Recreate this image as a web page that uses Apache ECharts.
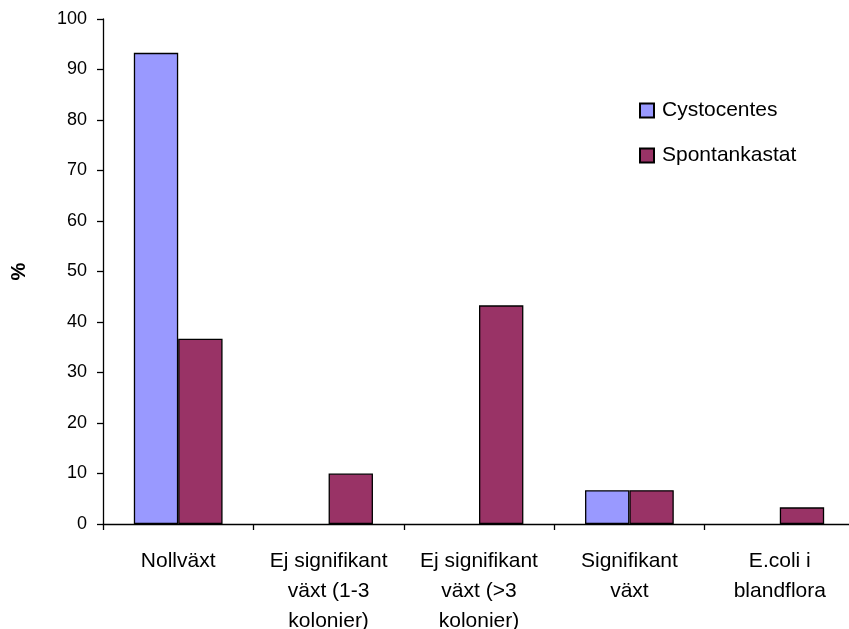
<!DOCTYPE html>
<html>
<head>
<meta charset="utf-8">
<script src="https://cdn.jsdelivr.net/npm/echarts@6/dist/echarts.min.js"></script>
<style>
  html, body { margin: 0; padding: 0; background: #fff; }
  #chart { width: 849px; height: 629px; }
</style>
</head>
<body>
<div id="chart"></div>
<script>
// Odlingsresultat per provtagningsmetod (%)
const categories = [
  'Nollväxt',
  'Ej signifikant\nväxt (1-3\nkolonier)',
  'Ej signifikant\nväxt (>3\nkolonier)',
  'Signifikant\nväxt',
  'E.coli i\nblandflora'
];
const cystocentes = [93.3, 0, 0, 6.7, 0];
const spontankastat = [36.7, 10, 43.3, 6.7, 3.3];
const yTicks = { min: 0, max: 100, interval: 10 };

const font = 'Liberation Sans, Arial, sans-serif';

// zero-height bars get no outline so they don't leave a line on the axis
function barData(values) {
  return values.map(v => ({ value: v, itemStyle: { borderWidth: v === 0 ? 0 : 1.3 } }));
}

const chart = echarts.init(document.getElementById('chart'));

chart.setOption({
  animation: false,
  backgroundColor: '#ffffff',
  grid: { left: 103, top: 19, bottom: 105, width: 752, outerBoundsMode: 'none', containLabel: false },
  legend: {
    orient: 'vertical',
    left: 634,
    top: 95,
    itemWidth: 14,
    itemHeight: 14,
    itemGap: 24,
    icon: 'rect',
    textStyle: { fontFamily: font, fontSize: 21, color: '#000', padding: [0, 0, 0, 3] },
    data: ['Cystocentes', 'Spontankastat']
  },
  xAxis: {
    type: 'category',
    data: categories,
    axisLine: { lineStyle: { color: '#000', width: 1.3 } },
    axisTick: { show: true, length: 6, lineStyle: { color: '#000', width: 1.3 } },
    axisLabel: {
      interval: 0,
      margin: 22,
      fontFamily: font,
      fontSize: 21,
      lineHeight: 30,
      color: '#000',
      align: 'center'
    }
  },
  yAxis: {
    type: 'value',
    min: yTicks.min,
    max: yTicks.max,
    interval: yTicks.interval,
    name: '%',
    nameLocation: 'middle',
    nameGap: 74,
    nameRotate: 90,
    nameTextStyle: { fontFamily: font, fontSize: 20, fontWeight: 'bold', color: '#000' },
    splitLine: { show: false },
    axisLine: { show: true, lineStyle: { color: '#000', width: 1.3 } },
    axisTick: { show: true, length: 6, lineStyle: { color: '#000', width: 1.3 } },
    axisLabel: { margin: 16, fontFamily: font, fontSize: 18, color: '#000' }
  },
  series: [
    {
      name: 'Cystocentes',
      type: 'bar',
      data: barData(cystocentes),
      barGap: '0%',
      barCategoryGap: '41%',
      itemStyle: { color: '#9999ff', borderColor: '#000', borderWidth: 1.3 }
    },
    {
      name: 'Spontankastat',
      type: 'bar',
      data: barData(spontankastat),
      barGap: '0%',
      barCategoryGap: '41%',
      itemStyle: { color: '#993366', borderColor: '#000', borderWidth: 1.3 }
    }
  ]
});
</script>
</body>
</html>
